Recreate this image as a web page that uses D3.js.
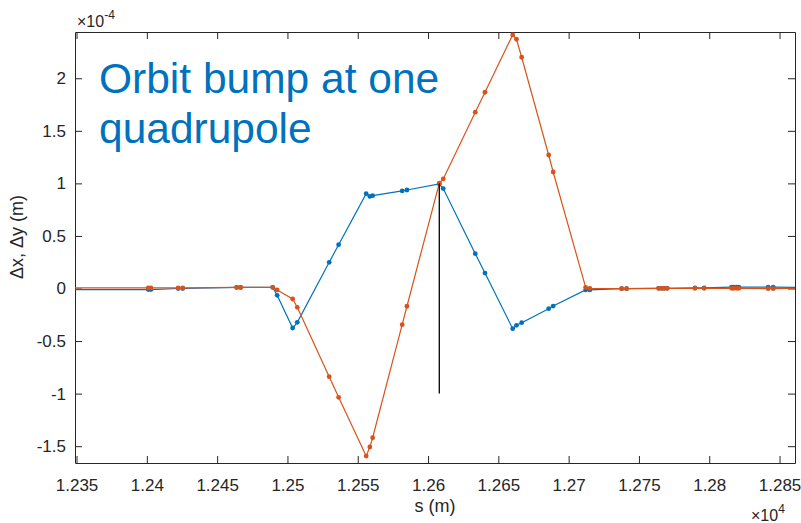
<!DOCTYPE html>
<html>
<head>
<meta charset="utf-8">
<script src="https://cdn.jsdelivr.net/npm/d3@7"></script>
<style>
    body { margin: 0; background: #fff; }
    svg { display: block; font-family: "Liberation Sans", Arial, sans-serif; }
</style>
</head>
<body>
<div id="chart"></div>
<script>
// positions along the ring (m); first and last run past the visible window
const sPos = [12340, 12401.0, 12402.9, 12422.3, 12425.5, 12463.9, 12466.7, 12489.5, 12492.7,
    12503.7, 12507.0, 12529.7, 12536.4, 12556.0, 12558.6, 12560.6, 12581.6, 12585.0, 12608.0,
    12610.8, 12633.6, 12640.5, 12660.2, 12662.9, 12666.6, 12685.8, 12689.0, 12712.1, 12715.1,
    12737.7, 12741.2, 12764.0, 12766.1, 12768.0, 12770.1, 12789.8, 12796.4, 12815.9, 12817.5,
    12819.5, 12821.1, 12841.9, 12845.5, 12870];

// orbit offsets in units of 1e-4 m
const dx = [-0.01, -0.01, -0.01, 0.0, 0.0, 0.01, 0.01, 0.011, -0.065, -0.376, -0.322, 0.249,
    0.417, 0.902, 0.876, 0.883, 0.928, 0.937, 0.994, 0.951, 0.331, 0.147, -0.382, -0.35, -0.325,
    -0.192, -0.167, -0.014, -0.014, -0.002, -0.002, 0.002, 0.002, 0.002, 0.002, 0.005, 0.005,
    0.014, 0.014, 0.014, 0.014, 0.014, 0.014, 0.01];
const dy = [0.007, 0.005, 0.005, 0.005, 0.005, 0.01, 0.01, 0.011, -0.014, -0.1, -0.179, -0.839,
    -1.035, -1.594, -1.508, -1.42, -0.344, -0.169, 1.001, 1.042, 1.677, 1.867, 2.412, 2.371, 2.2,
    1.27, 1.108, 0.011, 0.002, -0.002, -0.002, 0.002, 0.002, 0.002, 0.002, 0.002, 0.002, 0.002,
    0.002, 0.002, 0.002, -0.002, -0.002, 0.002];

// marker for the quadrupole
const quadS = 12608.0;
const quadSpan = [-1, 1];

const xTicks = [12350, 12400, 12450, 12500, 12550, 12600, 12650, 12700, 12750, 12800, 12850];
const yTicks = [-1.5, -1, -0.5, 0, 0.5, 1, 1.5, 2];
const titleLines = ["Orbit bump at one", "quadrupole"];

const width = 801, height = 523;
const margin = { top: 32, right: 6, bottom: 60, left: 75 };
const plotWidth = width - margin.left - margin.right;
const plotHeight = height - margin.top - margin.bottom;

const svg = d3.select("#chart").append("svg").attr("width", width).attr("height", height);
const g = svg.append("g").attr("transform", `translate(${margin.left},${margin.top})`);

const x = d3.scaleLinear().domain([12348.9, 12861]).range([0, plotWidth]);
const y = d3.scaleLinear().domain([-1.66, 2.44]).range([plotHeight, 0]);

g.append("clipPath").attr("id", "clip")
    .append("rect").attr("width", plotWidth).attr("height", plotHeight);

const axisColor = "#262626";
const fmtX = d => String(+(d / 1e4).toFixed(4));
const fmtY = d => String(d);

// axes, ticks pointing inwards on all four sides
const xAxis = g.append("g").attr("transform", `translate(0,${plotHeight})`)
    .call(d3.axisBottom(x).tickValues(xTicks).tickFormat(fmtX).tickSize(-7).tickSizeOuter(0).tickPadding(16));
const xTop = g.append("g")
    .call(d3.axisTop(x).tickValues(xTicks).tickFormat("").tickSize(-7).tickSizeOuter(0));
const yAxis = g.append("g")
    .call(d3.axisLeft(y).tickValues(yTicks).tickFormat(fmtY).tickSize(-7).tickSizeOuter(0).tickPadding(9));
const yRight = g.append("g").attr("transform", `translate(${plotWidth},0)`)
    .call(d3.axisRight(y).tickValues(yTicks).tickFormat("").tickSize(-7).tickSizeOuter(0));

[xAxis, xTop, yAxis, yRight].forEach(a => {
    a.select(".domain").attr("stroke", axisColor);
    a.selectAll(".tick line").attr("stroke", axisColor);
    a.selectAll(".tick text").attr("fill", axisColor).style("font-size", "17px");
});

// series
const series = [
    { values: dx, color: "#0072BD" },
    { values: dy, color: "#D95319" }
];
const plot = g.append("g").attr("clip-path", "url(#clip)");
const line = d3.line().x(d => x(d[0])).y(d => y(d[1]));

series.forEach(sr => {
    const pts = sPos.map((s, i) => [s, sr.values[i]]);
    plot.append("path").datum(pts)
        .attr("fill", "none")
        .attr("stroke", sr.color)
        .attr("stroke-width", 1.2)
        .attr("d", line);
    plot.selectAll(null).data(pts).enter().append("circle")
        .attr("cx", d => x(d[0]))
        .attr("cy", d => y(d[1]))
        .attr("r", 2.4)
        .attr("fill", sr.color);
});

// quadrupole marker line
plot.append("line")
    .attr("x1", x(quadS)).attr("x2", x(quadS))
    .attr("y1", y(quadSpan[0])).attr("y2", y(quadSpan[1]))
    .attr("stroke", "#000").attr("stroke-width", 1.3);

// title text inside axes
const title = svg.append("text")
    .attr("fill", "#0072BD")
    .style("font-size", "42.5px");
titleLines.forEach((t, i) => {
    title.append("tspan").attr("x", 99).attr("y", 93 + i * 50).text(t);
});

// axis labels
svg.append("text")
    .attr("x", margin.left + plotWidth / 2)
    .attr("y", 512)
    .attr("text-anchor", "middle")
    .attr("fill", axisColor)
    .style("font-size", "18px")
    .text("s (m)");

svg.append("text")
    .attr("transform", "translate(23,237) rotate(-90)")
    .attr("text-anchor", "middle")
    .attr("fill", axisColor)
    .style("font-size", "18px")
    .text("\u0394x, \u0394y (m)");

// exponent labels
const expTop = svg.append("text").attr("x", 77).attr("y", 27).attr("fill", axisColor).style("font-size", "16px");
expTop.append("tspan").text("\u00d710");
expTop.append("tspan").attr("dy", -8).style("font-size", "12px").text("-4");

const expBottom = svg.append("text").attr("x", 751).attr("y", 521).attr("fill", axisColor).style("font-size", "16px");
expBottom.append("tspan").text("\u00d710");
expBottom.append("tspan").attr("dy", -8).style("font-size", "12px").text("4");
</script>
</body>
</html>
